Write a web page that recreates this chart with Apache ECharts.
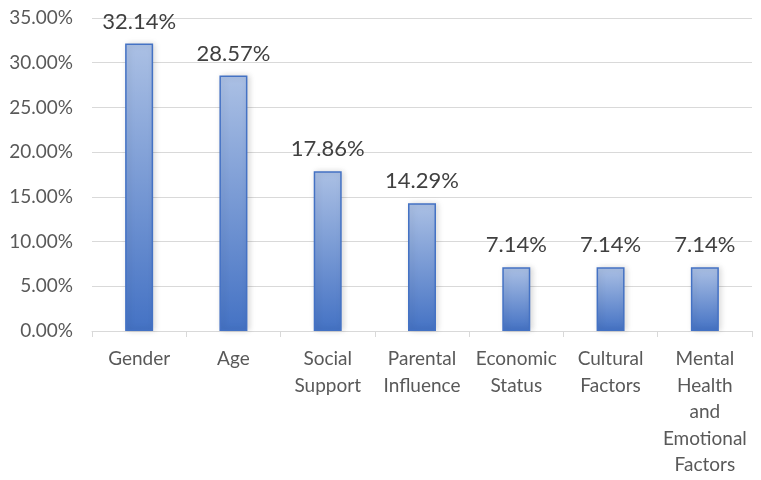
<!DOCTYPE html>
<html><head><meta charset="utf-8">
<script src="https://cdn.jsdelivr.net/npm/echarts@6/dist/echarts.min.js"></script>
<style>html,body{margin:0;padding:0;background:#fff}#c{width:761px;height:480px}</style>
</head><body><div id="c"></div>
<script>
const categories = ["Gender", "Age", "Social\nSupport", "Parental\nInfluence", "Economic\nStatus", "Cultural\nFactors", "Mental\nHealth\nand\nEmotional\nFactors"];
const values = [32.14, 28.57, 17.86, 14.29, 7.14, 7.14, 7.14];
const yTicks = { min: 0, max: 35, interval: 5 };

const font = "Lato, 'Open Sans', sans-serif";
const chart = echarts.init(document.getElementById('c'));
chart.setOption({
  animation: false,
  grid: { left: 92, right: 9, top: 18, bottom: 149 },
  xAxis: {
    type: 'category', data: categories,
    axisLine: { lineStyle: { color: '#d9d9d9', width: 1 } },
    axisTick: { show: true, length: 6, lineStyle: { color: '#d9d9d9' } },
    axisLabel: { color: '#595959', fontSize: 19, fontFamily: font, lineHeight: 26.5, margin: 15, interval: 0 }
  },
  yAxis: {
    type: 'value', min: yTicks.min, max: yTicks.max, interval: yTicks.interval,
    axisLine: { show: false }, axisTick: { show: false },
    splitLine: { lineStyle: { color: '#d9d9d9', width: 1 } },
    axisLabel: { color: '#595959', fontSize: 19, fontFamily: font, margin: 19,
      formatter: v => v.toFixed(2) + '%' }
  },
  series: [{
    type: 'bar', data: values, barWidth: 28,
    itemStyle: {
      color: new echarts.graphic.LinearGradient(0, 0, 0, 1, [
        { offset: 0, color: '#abc0e4' },
        { offset: 1, color: '#4472c4' }
      ]),
      borderColor: '#4472c4', borderWidth: 1.5,
      shadowColor: 'rgba(0,0,0,0.15)', shadowBlur: 6, shadowOffsetX: 2, shadowOffsetY: 0
    },
    label: { show: true, position: 'top', distance: 11, color: '#404040', fontSize: 22, fontFamily: font,
      formatter: p => p.value.toFixed(2) + '%' }
  }]
});
</script></body></html>
